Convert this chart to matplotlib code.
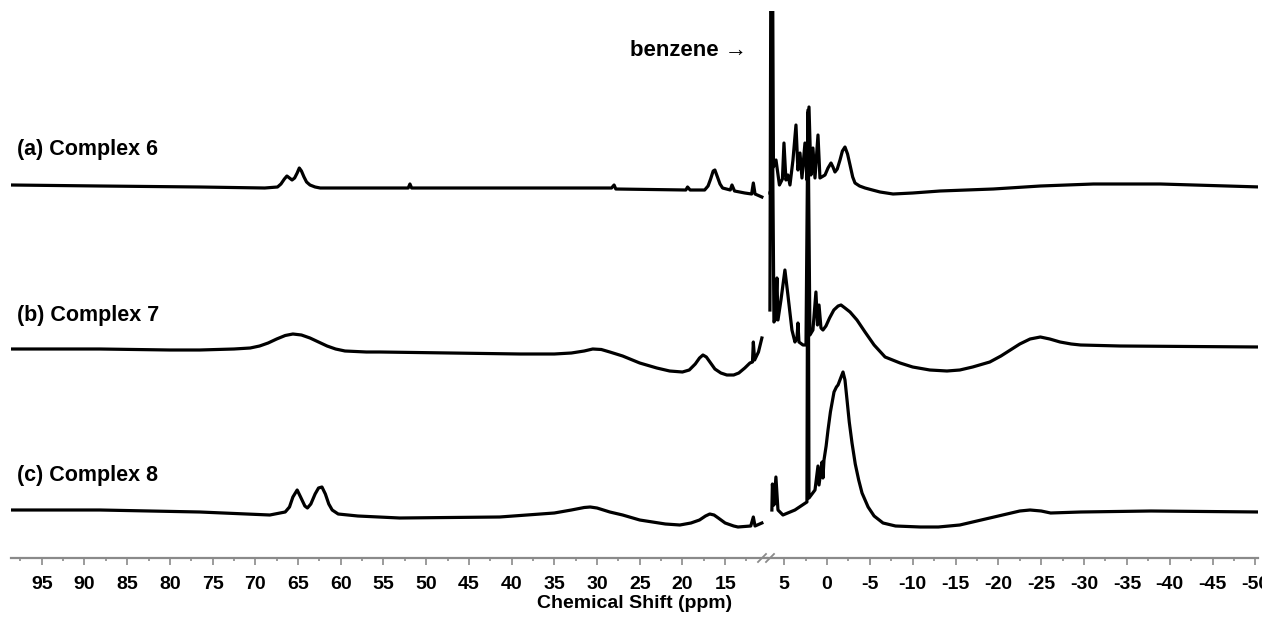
import numpy as np
import matplotlib
matplotlib.use('Agg')
import matplotlib.pyplot as plt
from matplotlib.lines import Line2D

plt.rcParams['font.family'] = ['Liberation Sans', 'DejaVu Sans']

# chemical shift (ppm) and intensity above each trace's own baseline
# left part of the broken axis (98.6 -> 10 ppm)
a_ppm_left = [98.6, 88.2, 76.5, 68.9, 67.4, 67.0, 66.6, 66.3, 66.0, 65.7, 65.4, 65.1, 64.85, 64.6, 64.3,
              64.0, 63.6, 63.0, 62.4, 57.8, 52.1, 51.9, 51.7, 41.4, 28.3, 28.0, 27.8, 19.6, 19.4, 19.1,
              17.4, 17.0, 16.7, 16.4, 16.2, 15.9, 15.6, 15.3, 14.4, 14.2, 13.9, 12.7, 11.9, 11.7, 11.5,
              10.7]
a_int_left = [2, 1, 0, -1, 0, 3, 8, 11, 9, 7, 9, 14, 19, 16, 10,
              5, 2, 0, -1, -1, -1, 3, -1, -1, -1, 2, -2, -3, 0, -3,
              -3, 1, 8, 16, 17, 10, 3, -1, -3, 2, -4, -6, -7, 4, -7,
              -10]
b_ppm_left = [98.6, 88.2, 80.0, 76.5, 72.5, 70.6, 69.5, 68.5, 67.5, 66.5, 65.6, 64.6, 63.6, 62.6, 61.6,
              60.6, 59.5, 57.0, 55.4, 47.2, 39.0, 35.0, 33.0, 31.5, 30.5, 29.5, 28.5, 27.0, 25.0, 23.0,
              21.5, 20.0, 19.2, 18.5, 18.0, 17.6, 17.2, 16.7, 16.2, 15.5, 14.8, 14.0, 13.4, 12.7, 12.1,
              11.8, 11.7, 11.55, 11.1, 10.7]
b_int_left = [1, 1, 0, 0, 1, 2, 4, 7, 11, 14.5, 16, 15, 12, 8, 4,
              1, -1, -2, -2, -3, -4, -4, -3, -1, 1, 0.5, -2, -6, -13, -18,
              -21, -22, -20, -14, -8, -5, -7, -13, -19, -23, -25, -25, -23, -18, -13,
              -12, 8, -10, -2, 12]
c_ppm_left = [98.6, 88.2, 76.5, 68.3, 66.5, 66.0, 65.6, 65.1, 64.7, 64.2, 63.9, 63.5, 63.0, 62.6, 62.2,
              61.8, 61.4, 61.0, 60.3, 58.0, 53.1, 41.4, 35.0, 33.0, 31.5, 30.8, 30.0, 28.5, 27.0, 25.0,
              22.0, 20.3, 19.0, 18.0, 17.3, 16.8, 16.3, 15.8, 15.0, 14.0, 13.5, 12.0, 11.7, 11.5, 10.7]
c_int_left = [2, 2, 0, -3, 0, 5, 15, 22, 15, 6, 4, 8, 18, 24, 25,
              18, 8, 2, -2, -4, -6, -5, -1, 2, 4.5, 5, 4, 0, -3, -8,
              -12, -13, -11, -8, -4, -2, -3, -6, -11, -14, -15, -14, -5, -14, -11]

# right part of the broken axis (7 -> -50 ppm)
a_ppm_right = [6.66, 6.55, 6.40, 6.25, 5.95, 5.55, 5.20, 5.02, 4.79, 4.56, 4.32, 3.97, 3.62, 3.39, 3.15,
               2.92, 2.57, 2.34, 2.10, 1.87, 1.64, 1.40, 1.05, 0.82, 0.23, -0.12, -0.47, -0.70, -0.93, -1.20,
               -1.52, -1.80, -2.10, -2.40, -2.69, -3.00, -3.27, -3.80, -4.44, -5.30, -6.19, -7.71, -10.0, -13.2, -19.4,
               -24.9, -31.1, -38.9, -50.6]
a_int_right = [-6, -6, 330, 20, 27, 2, 8, 44, 7, 12, 2, 27, 62, 17, 34,
               9, 44, 7, 80, 12, 39, 9, 52, 9, 12, 19, 24, 20, 15, 18,
               27, 36, 40, 33, 22, 10, 4, 1, -1, -3, -5, -7, -6, -4, -2,
               1, 3, 3, 0]
b_ppm_right = [6.66, 6.54, 6.19, 6.05, 5.84, 5.72, 5.37, 4.91, 4.56, 4.09, 3.74, 3.50, 3.39, 3.27, 2.80,
               2.45, 2.22, 1.99, 1.64, 1.29, 1.11, 0.93, 0.70, 0.47, 0.12, -0.30, -0.80, -1.30, -1.64, -2.10,
               -2.69, -3.50, -4.44, -5.50, -6.78, -8.53, -10.0, -12.0, -14.0, -15.5, -17.0, -19.0, -20.3, -21.4, -22.5,
               -23.7, -24.9, -26.0, -27.2, -28.5, -29.6, -34.2, -50.6]
b_int_right = [40, 420, 28, 30, 72, 30, 50, 80, 55, 20, 8, 12, 27, 8, 5,
               5, 240, 15, 20, 58, 25, 45, 22, 20, 24, 32, 40, 44, 45, 42,
               38, 30, 18, 5, -7, -13, -17, -20, -21, -20, -17, -12, -6, 0, 6,
               11, 13, 11, 8, 6, 5, 4, 3]
c_ppm_right = [6.43, 6.37, 6.19, 5.96, 5.72, 5.14, 3.74, 2.34, 2.22, 2.10, 1.40, 1.05, 0.93, 0.58, 0.47,
               0.35, 0.10, -0.12, -0.40, -0.82, -1.10, -1.29, -1.60, -1.87, -2.10, -2.34, -2.60, -2.92, -3.30, -3.70,
               -4.09, -4.80, -5.50, -6.54, -8.0, -10.9, -13.0, -15.5, -17.0, -19.0, -21.0, -22.5, -23.7, -25.0, -26.1,
               -29.6, -37.8, -50.6]
c_int_right = [2, 28, 7, 35, 2, -3, 2, 10, 400, 14, 22, 46, 27, 50, 34,
               52, 66, 82, 100, 120, 125, 127, 134, 140, 132, 112, 90, 69, 48, 32,
               19, 5, -4, -11, -14, -15, -15, -13, -10, -6, -2, 1, 2, 1, -1,
               0, 1, 0]

labels = ['(a) Complex 6', '(b) Complex 7', '(c) Complex 8']
offsets = [371, 208, 46]

W, H = 1262, 619
fig = plt.figure(figsize=(W / 100, H / 100), dpi=100)
bottom = (H - 558) / H
height = (558 - 11) / H
ax1 = fig.add_axes([11 / W, bottom, 756 / W, height])
ax2 = fig.add_axes([767 / W, bottom, 491 / W, height])

left = [(a_ppm_left, a_int_left), (b_ppm_left, b_int_left), (c_ppm_left, c_int_left)]
right = [(a_ppm_right, a_int_right), (b_ppm_right, b_int_right), (c_ppm_right, c_int_right)]
for (x, y), off in zip(left, offsets):
    ax1.plot(x, np.array(y) + off, color='black', lw=2.3, solid_joinstyle='round')
for (x, y), off in zip(right, offsets):
    ax2.plot(x, np.array(y) + off, color='black', lw=2.3, solid_joinstyle='round')

ax1.set_xlim(98.6, 10.1)
ax2.set_xlim(7.0, -50.3)
for ax in (ax1, ax2):
    ax.set_ylim(0, 547)
    ax.set_yticks([])
    for s in ['top', 'left', 'right']:
        ax.spines[s].set_visible(False)
    ax.spines['bottom'].set_color('#8a8a8a')
    ax.spines['bottom'].set_linewidth(1.6)
    ax.tick_params(axis='x', which='major', direction='out', length=5, width=1.2,
                   color='#8a8a8a', labelsize=14, pad=8)
    ax.tick_params(axis='x', which='minor', direction='out', length=2.5, width=1.2, color='#8a8a8a')
    ax.patch.set_alpha(0)

ax1.set_xticks(np.arange(95, 14, -5))
ax1.set_xticks(np.arange(97.5, 11, -5), minor=True)
ax2.set_xticks(np.arange(5, -51, -5))
ax2.set_xticks(np.arange(2.5, -49, -5), minor=True)
for ax in (ax1, ax2):
    ax.set_xticklabels([str(int(t)) for t in ax.get_xticks()], fontweight='bold')

# break marks on the axis
for x0 in (758, 766):
    fig.add_artist(Line2D([x0 / W, (x0 + 8) / W], [(H - 562) / H, (H - 554) / H],
                          color='#8a8a8a', lw=1.3))

for lab, yy in zip(labels, [150, 316, 476]):
    fig.text(17 / W, 1 - yy / H, lab, fontsize=15.5, fontweight='bold', va='center', ha='left')
fig.text(630 / W, 1 - 50 / H, 'benzene \u2192', fontsize=16, fontweight='bold', va='center', ha='left')
fig.text(635 / W, 1 - 604 / H, 'Chemical Shift (ppm)', fontsize=14, fontweight='bold',
         va='center', ha='center')

fig.savefig('out.png', dpi=100)
